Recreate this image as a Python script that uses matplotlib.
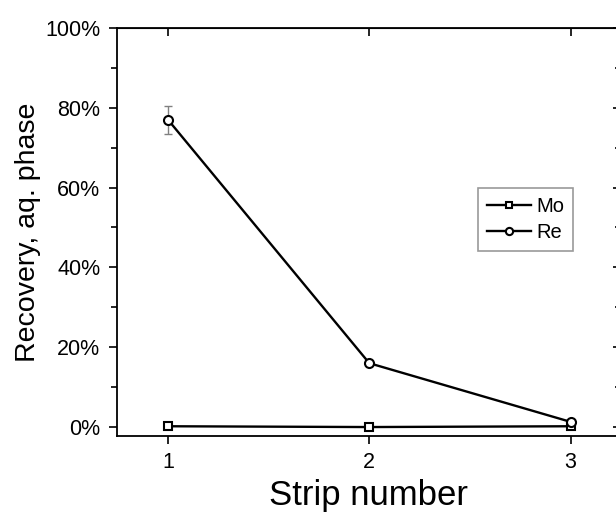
import matplotlib.pyplot as plt
from matplotlib.ticker import MultipleLocator, PercentFormatter

plt.rcParams['font.family'] = ['Liberation Sans', 'DejaVu Sans']

# recovery into the aqueous phase per strip stage, in percent
strip = [1, 2, 3]
mo = [0.2, 0.0, 0.2]
re = [77.0, 16.0, 1.3]
re_err = [3.5, 0.0, 0.0]

fig = plt.figure(figsize=(6.16, 5.17), dpi=100)
ax = fig.add_axes([0.19, 0.157, 0.818, 0.789])

ax.plot(strip, mo, color='black', lw=1.7, marker='s', ms=6, mfc='white',
        mec='black', mew=1.5, label='Mo', zorder=3)
ax.errorbar(strip, re, yerr=re_err, fmt='none', ecolor='gray',
            elinewidth=1, capsize=3, zorder=2)
ax.plot(strip, re, color='black', lw=1.7, marker='o', ms=6.5, mfc='white',
        mec='black', mew=1.5, label='Re', zorder=4)

ax.set_xlim(0.747, 3.25)
ax.set_ylim(-2.2, 100)
ax.set_xticks(strip)
ax.yaxis.set_major_locator(MultipleLocator(20))
ax.yaxis.set_minor_locator(MultipleLocator(10))
ax.yaxis.set_major_formatter(PercentFormatter(decimals=0))

for s in ax.spines.values():
    s.set_linewidth(1.3)
ax.tick_params(axis='both', which='both', labelsize=15.5, width=1.2)
ax.tick_params(axis='y', which='major', length=6, direction='out', pad=6)
ax.tick_params(axis='y', which='minor', length=4, direction='out')
ax.tick_params(axis='x', which='major', length=6, direction='out', pad=6)
ax.tick_params(axis='x', which='minor', bottom=False)

# inward ticks on the top and right frame
top = ax.secondary_xaxis('top')
top.set_xticks(strip)
top.tick_params(direction='in', length=6, width=1.2, labeltop=False)
right = ax.secondary_yaxis('right')
right.yaxis.set_major_locator(MultipleLocator(20))
right.yaxis.set_minor_locator(MultipleLocator(10))
right.tick_params(which='major', direction='in', length=6, width=1.2,
                  labelright=False)
right.tick_params(which='minor', direction='in', length=4, width=1.2)

ax.set_xlabel('Strip number', fontsize=25, labelpad=4)
ax.set_ylabel('Recovery, aq. phase', fontsize=20.5, labelpad=3)

leg = ax.legend(loc='upper left', bbox_to_anchor=(0.716, 0.608), fontsize=14.5,
                frameon=True, fancybox=False, handlelength=2.2,
                handletextpad=0.25, borderpad=0.45, labelspacing=0.35,
                borderaxespad=0, markerscale=0.8)
leg.get_frame().set_edgecolor('gray')
leg.get_frame().set_linewidth(1.2)

fig.savefig('out.png', dpi=100)
